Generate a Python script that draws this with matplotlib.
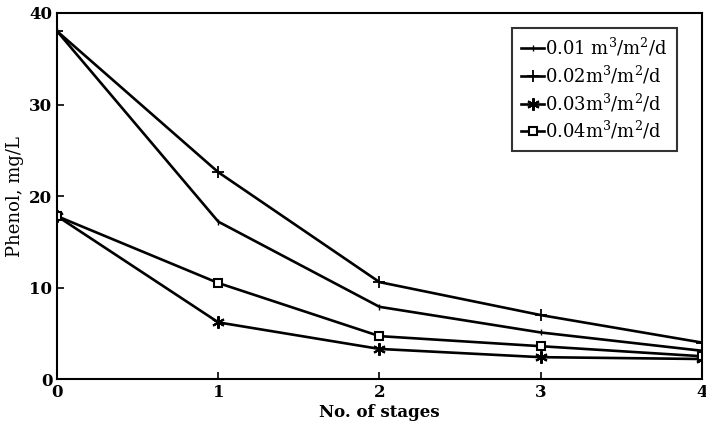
import matplotlib
matplotlib.use("Agg")
import matplotlib.pyplot as plt

# data
stages = [0, 1, 2, 3, 4]
q001 = [38.0, 17.2, 7.9, 5.1, 3.1]
q002 = [38.0, 22.6, 10.6, 7.0, 4.0]
q003 = [17.8, 6.2, 3.3, 2.4, 2.2]
q004 = [17.8, 10.5, 4.7, 3.6, 2.5]
labels = [r"0.01 m$^3$/m$^2$/d", r"0.02m$^3$/m$^2$/d",
          r"0.03m$^3$/m$^2$/d", r"0.04m$^3$/m$^2$/d"]

plt.rcParams["font.family"] = ["DejaVu Serif"]
plt.rcParams["mathtext.fontset"] = "dejavuserif"

fig = plt.figure(figsize=(7.06, 4.26), dpi=100)
ax = fig.add_axes([0.081, 0.110, 0.913, 0.8595])

lw = 1.9
ax.plot(stages, q001, color="black", lw=lw, marker="|", ms=4, label=labels[0])
ax.plot(stages, q002, color="black", lw=lw, marker="+", ms=9, mew=1.3, label=labels[1])
ax.plot(stages, q003, color="black", lw=lw, marker=(6, 2, 0), ms=9, mew=1.5, label=labels[2])
ax.plot(stages, q004, color="black", lw=lw, marker="s", ms=6, mfc="white", mew=1.5, label=labels[3])

ax.set_xlim(0, 3.96)
ax.set_ylim(0, 40)
ax.set_xticks([0, 1, 2, 3, 4])
ax.set_yticks([0, 10, 20, 30, 40])
ax.tick_params(direction="in", length=5, width=1.2, labelsize=12)
for t in ax.get_xticklabels() + ax.get_yticklabels():
    t.set_fontweight("bold")
for s in ax.spines.values():
    s.set_linewidth(1.5)

ax.set_xlabel("No. of stages", fontsize=12, fontweight="bold", labelpad=2)
ax.set_ylabel("Phenol, mg/L", fontsize=13, labelpad=4)

leg = ax.legend(loc="upper right", bbox_to_anchor=(0.975, 0.985), fontsize=13,
                frameon=True, fancybox=False, edgecolor="black",
                handlelength=1.3, handletextpad=0.05, borderpad=0.5,
                labelspacing=0.3)
leg.get_frame().set_linewidth(1.5)

fig.savefig("out.png", dpi=100)
